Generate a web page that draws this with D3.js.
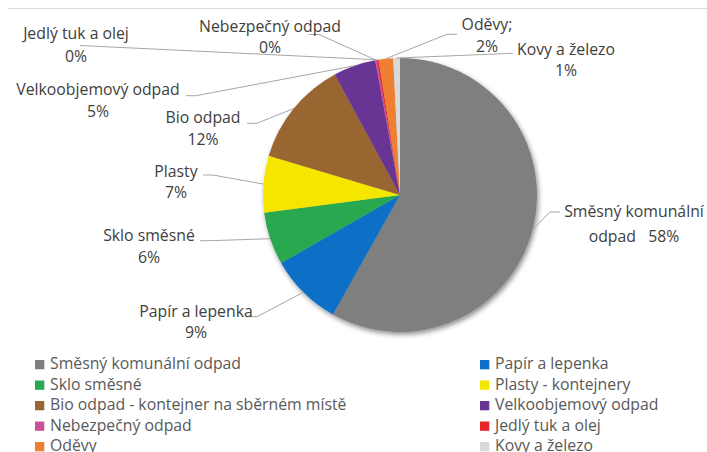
<!DOCTYPE html>
<html>
<head>
<meta charset="utf-8">
<script src="https://cdn.jsdelivr.net/npm/d3@7"></script>
<style>
  body { margin: 0; background: #fff; }
  svg text { font-family: "Open Sans", sans-serif; }
</style>
</head>
<body>
<div id="chart"></div>
<script>
// Odpady - podíl jednotlivých složek

var categories = ['Směsný komunální odpad', 'Papír a lepenka', 'Sklo směsné',
    'Plasty - kontejnery', 'Bio odpad - kontejner na sběrném místě', 'Velkoobjemový odpad',
    'Nebezpečný odpad', 'Jedlý tuk a olej', 'Oděvy', 'Kovy a železo']
var labelNames = [['Směsný komunální', 'odpad'], ['Papír a lepenka'], ['Sklo směsné'],
    ['Plasty'], ['Bio odpad'], ['Velkoobjemový odpad'],
    ['Nebezpečný odpad'], ['Jedlý tuk a olej'], ['Oděvy;'], ['Kovy a železo']]
var values = [58.2, 8.6, 6.2, 6.7, 12.5, 5.0, 0.2, 0.2, 1.7, 0.8]
var colors = ['#7f7f7f', '#0f6fc6', '#2aa84f', '#f5e600', '#996633', '#673594',
    '#c9509b', '#e8262a', '#ef7f31', '#d9d9d9']

// label placement (x centre, first baseline, leader start, elbow direction)
var labelPos = [
    {x: 634, y: 216.7, gap: 25, lx: 560, ly: 212, dir: -1, inline: true},
    {x: 196, y: 316.7, gap: 21.7, lx: 247, ly: 316.7, dir: 1},
    {x: 149, y: 241, gap: 21.7, lx: 200, ly: 240.7, dir: 1},
    {x: 176, y: 176.7, gap: 21.7, lx: 203, ly: 175, dir: 1},
    {x: 203, y: 123.3, gap: 21.7, lx: 247, ly: 123.3, dir: 1},
    {x: 98, y: 95, gap: 21.7, lx: 186, ly: 95.7, dir: 1},
    {x: 270, y: 31.7, gap: 21.7, lx: 309, ly: 34.5, dir: 1},
    {x: 76, y: 39.3, gap: 22.4, lx: 80, ly: 45.5, dir: 0},
    {x: 487, y: 30, gap: 21.7, lx: 457, ly: 34.3, dir: -1},
    {x: 566, y: 55, gap: 21, lx: 513, ly: 53.3, dir: 0}
]

var width = 707, height = 452
var cx = 400, cy = 195, radius = 137

var svg = d3.select('#chart')
    .append('svg')
    .attr('width', width)
    .attr('height', height)

// thin top border of chart area
svg.append('line')
    .attr('x1', 8).attr('x2', width)
    .attr('y1', 8.5).attr('y2', 8.5)
    .attr('stroke', '#d9d9d9')
    .attr('stroke-width', 1)

var defs = svg.append('defs')
var shadow = defs.append('filter')
    .attr('id', 'shadow')
    .attr('x', '-10%').attr('y', '-10%')
    .attr('width', '130%').attr('height', '130%')
shadow.append('feDropShadow')
    .attr('dx', 1.5).attr('dy', 2.5)
    .attr('stdDeviation', 2.5)
    .attr('flood-color', '#000')
    .attr('flood-opacity', 0.45)

var pie = d3.pie().sort(null).value(function (d) { return d })
var arcs = pie(values)
var total = d3.sum(values)
var fmt = d3.format('.0%')

var arc = d3.arc().innerRadius(0).outerRadius(radius)

var g = svg.append('g')
    .attr('transform', 'translate(' + cx + ',' + cy + ')')

g.append('g')
    .attr('filter', 'url(#shadow)')
    .selectAll('path')
    .data(arcs)
    .enter()
    .append('path')
    .attr('d', arc)
    .attr('fill', function (d, i) { return colors[i] })

// leader lines
svg.append('g')
    .selectAll('path')
    .data(arcs)
    .enter()
    .append('path')
    .attr('fill', 'none')
    .attr('stroke', '#a6a6a6')
    .attr('stroke-width', 1)
    .attr('d', function (d, i) {
        var p = labelPos[i]
        var a = (d.startAngle + d.endAngle) / 2
        var ex = cx + radius * Math.sin(a)
        var ey = cy - radius * Math.cos(a)
        var pts = [[p.lx, p.ly]]
        if (p.dir !== 0) pts.push([p.lx + p.dir * 10, p.ly])
        pts.push([ex, ey])
        return d3.line()(pts)
    })

// data labels
var labels = svg.append('g')
    .selectAll('text')
    .data(arcs)
    .enter()
    .append('text')
    .attr('text-anchor', 'middle')
    .attr('fill', '#404040')
    .style('font-size', '15.8px')

labels.each(function (d, i) {
    var p = labelPos[i]
    var t = d3.select(this)
    var lines = labelNames[i].slice()
    var pct = fmt(d.value / total)
    if (p.inline) lines[lines.length - 1] += '\u00a0\u00a0\u00a0' + pct
    else lines.push(pct)
    lines.forEach(function (s, k) {
        t.append('tspan')
            .attr('x', p.x)
            .attr('y', p.y + k * p.gap)
            .text(s)
    })
})

// legend, two columns
var legend = svg.append('g')
    .selectAll('g')
    .data(categories)
    .enter()
    .append('g')
    .attr('transform', function (d, i) {
        var col = i % 2
        var row = Math.floor(i / 2)
        return 'translate(' + (col === 0 ? 35 : 480) + ',' + (369.3 + row * 20.5) + ')'
    })

legend.append('rect')
    .attr('x', 0)
    .attr('y', -9.3)
    .attr('width', 9.3)
    .attr('height', 9.3)
    .attr('fill', function (d, i) { return colors[i] })

legend.append('text')
    .attr('x', 15)
    .attr('y', 0)
    .attr('fill', '#595959')
    .style('font-size', '15.8px')
    .text(function (d) { return d })
</script>
</body>
</html>
